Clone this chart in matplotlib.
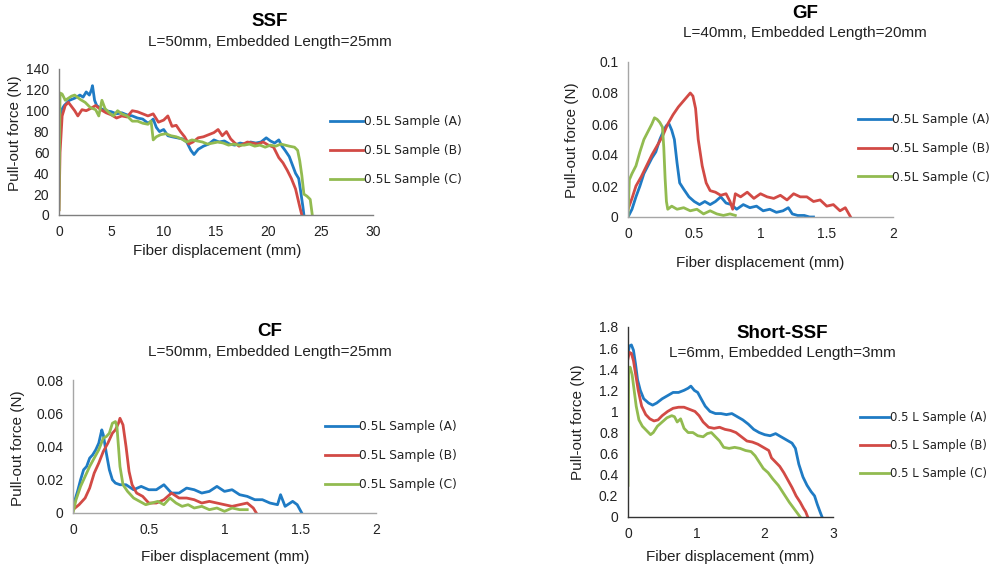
import matplotlib
matplotlib.use("Agg")
import matplotlib.pyplot as plt

# ---------------- DATA ----------------
legend_labels = ["0.5L Sample (A)", "0.5L Sample (B)", "0.5L Sample (C)"]
legend_labels_short = ["0.5 L Sample (A)", "0.5 L Sample (B)", "0.5 L Sample (C)"]

# SSF
ssf_a_x = [0, 0.1, 0.2, 0.5, 1.0, 1.5, 2.0, 2.3, 2.6, 2.9, 3.1, 3.2, 3.4, 3.6, 4.0, 4.5, 5.0, 5.5, 6.0, 6.5, 7.0, 7.5, 8.0, 8.5, 8.8, 9.0, 9.3, 9.6, 10.0, 10.4, 10.8, 11.3, 11.8, 12.2, 12.6, 12.9, 13.3, 13.8, 14.3, 14.8, 15.3, 15.8, 16.3, 16.8, 17.3, 17.8, 18.3, 18.8, 19.3, 19.8, 20.2, 20.6, 21.0, 21.3, 21.6, 22.0, 22.3, 22.6, 22.9, 23.1, 23.3, 23.4]
ssf_a_y = [60, 95, 100, 105, 110, 112, 115, 113, 118, 115, 120, 124, 110, 105, 102, 100, 99, 97, 98, 96, 95, 93, 92, 88, 90, 92, 84, 80, 82, 76, 75, 74, 73, 70, 62, 58, 63, 66, 68, 72, 70, 71, 68, 67, 69, 68, 70, 69, 70, 74, 71, 69, 72, 66, 62, 56, 48, 40, 35, 22, 8, 0]

ssf_b_x = [0, 0.1, 0.3, 0.6, 0.9, 1.2, 1.5, 1.8, 2.2, 2.6, 3.0, 3.5, 4.0, 4.5, 5.0, 5.5, 6.0, 6.5, 7.0, 7.5, 8.0, 8.5, 9.0, 9.5, 10.0, 10.4, 10.8, 11.2, 11.6, 12.0, 12.4, 12.8, 13.3, 13.8, 14.3, 14.8, 15.2, 15.6, 16.0, 16.4, 16.8, 17.2, 17.6, 18.0, 18.5, 19.0, 19.5, 20.0, 20.5, 21.0, 21.4, 21.8, 22.2, 22.6, 23.0, 23.2]
ssf_b_y = [5, 60, 95, 105, 108, 104, 100, 95, 101, 100, 102, 105, 101, 98, 96, 93, 95, 94, 100, 99, 97, 95, 97, 89, 91, 95, 85, 86, 80, 75, 68, 70, 74, 75, 77, 79, 82, 76, 80, 73, 69, 66, 68, 70, 69, 68, 70, 67, 65, 55, 50, 43, 35, 25, 8, 0]

ssf_c_x = [0, 0.1, 0.3, 0.6, 0.9, 1.2, 1.5, 2.0, 2.5, 3.0, 3.5, 3.8, 4.1, 4.4, 4.8, 5.2, 5.6, 6.0, 6.5, 7.0, 7.5, 8.0, 8.5, 8.8, 9.0, 9.3, 9.7, 10.2, 10.7, 11.2, 11.7, 12.2, 12.7, 13.2, 13.7, 14.2, 14.7, 15.2, 15.7, 16.2, 16.7, 17.2, 17.7, 18.2, 18.7, 19.2, 19.7, 20.2, 20.7, 21.2, 21.6, 22.0, 22.5, 22.8, 23.0, 23.2, 23.4, 23.7, 24.0, 24.2]
ssf_c_y = [5, 117, 116, 110, 112, 114, 115, 111, 108, 103, 101, 95, 110, 102, 98, 95, 100, 97, 95, 90, 90, 88, 87, 90, 72, 75, 77, 78, 76, 75, 73, 70, 72, 71, 70, 68, 69, 70, 69, 67, 68, 67, 67, 68, 66, 67, 65, 67, 66, 68, 67, 66, 65, 62, 52, 38, 20, 18, 15, 0]

# GF
gf_a_x = [0, 0.03, 0.06, 0.09, 0.12, 0.15, 0.18, 0.21, 0.24, 0.27, 0.29, 0.31, 0.33, 0.35, 0.37, 0.39, 0.42, 0.46, 0.5, 0.54, 0.58, 0.62, 0.66, 0.7, 0.74, 0.78, 0.82, 0.87, 0.92, 0.97, 1.02, 1.07, 1.12, 1.17, 1.21, 1.24, 1.28, 1.33, 1.37, 1.4]
gf_a_y = [0, 0.005, 0.013, 0.02, 0.028, 0.033, 0.038, 0.042, 0.05, 0.056, 0.059, 0.06, 0.056, 0.05, 0.035, 0.022, 0.018, 0.013, 0.01, 0.008, 0.01, 0.008, 0.01, 0.013, 0.009, 0.008, 0.005, 0.008, 0.006, 0.007, 0.004, 0.005, 0.003, 0.004, 0.006, 0.002, 0.001, 0.001, 0.0, 0.0]

gf_b_x = [0, 0.03, 0.06, 0.1, 0.14, 0.18, 0.22, 0.26, 0.3, 0.34, 0.38, 0.42, 0.45, 0.47, 0.49, 0.51, 0.53, 0.56, 0.59, 0.62, 0.66, 0.7, 0.74, 0.77, 0.79, 0.81, 0.85, 0.9, 0.95, 1.0, 1.05, 1.1, 1.15, 1.2, 1.25, 1.3, 1.35, 1.4, 1.45, 1.5, 1.55, 1.6, 1.64, 1.68]
gf_b_y = [0.005, 0.012, 0.02, 0.026, 0.033, 0.04, 0.046, 0.052, 0.06, 0.066, 0.071, 0.075, 0.078, 0.08, 0.078, 0.07, 0.05, 0.033, 0.022, 0.017, 0.016, 0.014, 0.015, 0.01, 0.005, 0.015, 0.013, 0.016, 0.012, 0.015, 0.013, 0.012, 0.014, 0.011, 0.015, 0.013, 0.013, 0.01, 0.011, 0.007, 0.008, 0.004, 0.006, 0.0]

gf_c_x = [0, 0.01, 0.03, 0.06, 0.09, 0.12, 0.15, 0.18, 0.2, 0.22, 0.24, 0.26, 0.27, 0.28, 0.29, 0.3, 0.33, 0.37, 0.42, 0.47, 0.52, 0.57, 0.62, 0.67, 0.72, 0.77, 0.81]
gf_c_y = [0, 0.024, 0.028, 0.033, 0.042, 0.05, 0.055, 0.06, 0.064, 0.063, 0.061, 0.058, 0.045, 0.025, 0.01, 0.005, 0.007, 0.005, 0.006, 0.004, 0.005, 0.002, 0.004, 0.002, 0.001, 0.002, 0.001]

# CF
cf_a_x = [0, 0.01, 0.03, 0.05, 0.07, 0.09, 0.11, 0.13, 0.15, 0.17, 0.19, 0.2, 0.22, 0.24, 0.26, 0.28, 0.31, 0.35, 0.4, 0.45, 0.5, 0.55, 0.6, 0.65, 0.7, 0.75, 0.8, 0.85, 0.9, 0.95, 1.0, 1.05, 1.1, 1.15, 1.2, 1.25, 1.3, 1.35, 1.37, 1.4, 1.45, 1.48, 1.51]
cf_a_y = [0.003, 0.007, 0.013, 0.02, 0.026, 0.028, 0.033, 0.035, 0.038, 0.042, 0.05, 0.047, 0.036, 0.026, 0.02, 0.018, 0.017, 0.017, 0.014, 0.016, 0.014, 0.014, 0.017, 0.012, 0.012, 0.015, 0.014, 0.012, 0.013, 0.016, 0.013, 0.014, 0.011, 0.01, 0.008, 0.008, 0.006, 0.005, 0.011, 0.004, 0.007, 0.005, 0.0]

cf_b_x = [0, 0.04, 0.08, 0.11, 0.14, 0.17, 0.2, 0.23, 0.26, 0.28, 0.3, 0.31, 0.33, 0.35, 0.37, 0.39, 0.42, 0.46, 0.5, 0.55, 0.6, 0.65, 0.7, 0.75, 0.8, 0.85, 0.9, 0.95, 1.0, 1.05, 1.1, 1.15, 1.19, 1.21]
cf_b_y = [0.002, 0.005, 0.009, 0.015, 0.024, 0.03, 0.037, 0.042, 0.048, 0.05, 0.054, 0.057, 0.053, 0.04, 0.025, 0.017, 0.012, 0.01, 0.006, 0.006, 0.008, 0.012, 0.009, 0.009, 0.008, 0.006, 0.007, 0.006, 0.005, 0.004, 0.005, 0.006, 0.003, 0.0]

cf_c_x = [0, 0.02, 0.05, 0.08, 0.11, 0.14, 0.17, 0.2, 0.22, 0.24, 0.26, 0.28, 0.29, 0.3, 0.31, 0.33, 0.36, 0.4, 0.44, 0.48, 0.52, 0.56, 0.6, 0.64, 0.68, 0.72, 0.76, 0.8, 0.85, 0.9, 0.95, 1.0, 1.05, 1.1, 1.15]
cf_c_y = [0, 0.008, 0.016, 0.022, 0.028, 0.033, 0.038, 0.045, 0.046, 0.048, 0.054, 0.055, 0.052, 0.04, 0.028, 0.017, 0.013, 0.009, 0.007, 0.005, 0.006, 0.007, 0.005, 0.009, 0.006, 0.004, 0.005, 0.003, 0.004, 0.002, 0.003, 0.001, 0.003, 0.002, 0.002]

# Short-SSF
sh_a_x = [0, 0.02, 0.05, 0.08, 0.11, 0.14, 0.18, 0.23, 0.3, 0.36, 0.42, 0.5, 0.58, 0.66, 0.74, 0.82, 0.88, 0.92, 0.97, 1.02, 1.07, 1.13, 1.2, 1.28, 1.36, 1.44, 1.52, 1.6, 1.68, 1.76, 1.84, 1.92, 2.0, 2.08, 2.16, 2.24, 2.32, 2.4, 2.45, 2.5, 2.56, 2.62, 2.68, 2.73, 2.77, 2.81, 2.84]
sh_a_y = [1.55, 1.62, 1.63, 1.58, 1.45, 1.3, 1.2, 1.12, 1.08, 1.06, 1.08, 1.12, 1.15, 1.18, 1.18, 1.2, 1.22, 1.24, 1.2, 1.18, 1.12, 1.05, 1.0, 0.98, 0.98, 0.97, 0.98, 0.95, 0.92, 0.88, 0.83, 0.8, 0.78, 0.77, 0.79, 0.76, 0.73, 0.7, 0.65, 0.5, 0.38, 0.3, 0.24, 0.2, 0.12, 0.05, 0.0]

sh_b_x = [0, 0.02, 0.05, 0.08, 0.11, 0.15, 0.2, 0.26, 0.32, 0.38, 0.44, 0.5, 0.58, 0.66, 0.74, 0.82, 0.9, 0.98, 1.04, 1.1, 1.18, 1.26, 1.34, 1.42, 1.5, 1.58, 1.66, 1.74, 1.82, 1.9, 1.98, 2.06, 2.1, 2.16, 2.22, 2.28, 2.34, 2.4, 2.46, 2.52, 2.57, 2.6, 2.63]
sh_b_y = [1.5, 1.56, 1.55, 1.48, 1.36, 1.2, 1.05, 0.97, 0.93, 0.91, 0.92, 0.96, 1.0, 1.03, 1.04, 1.04, 1.02, 1.0, 0.96, 0.9, 0.85, 0.84, 0.85, 0.83, 0.82, 0.8, 0.76, 0.72, 0.71, 0.69, 0.66, 0.63, 0.56, 0.52, 0.48, 0.42, 0.35, 0.28, 0.2, 0.14, 0.08, 0.05, 0.0]

sh_c_x = [0, 0.01, 0.03, 0.06, 0.09, 0.12, 0.16, 0.21, 0.27, 0.33, 0.37, 0.43, 0.5, 0.57, 0.64, 0.68, 0.72, 0.77, 0.82, 0.88, 0.95, 1.02, 1.1, 1.16, 1.22, 1.28, 1.34, 1.4, 1.48, 1.56, 1.64, 1.72, 1.8, 1.86, 1.92, 1.98, 2.05, 2.12, 2.2, 2.28, 2.36, 2.44, 2.52]
sh_c_y = [0.3, 1.38, 1.42, 1.35, 1.2, 1.05, 0.92, 0.86, 0.82, 0.78, 0.8, 0.86, 0.9, 0.94, 0.96, 0.95, 0.9, 0.93, 0.84, 0.8, 0.8, 0.77, 0.76, 0.79, 0.8, 0.76, 0.72, 0.66, 0.65, 0.66, 0.65, 0.63, 0.62, 0.58, 0.52, 0.46, 0.42, 0.36, 0.3, 0.22, 0.14, 0.07, 0.0]

# ---------------- STYLE ----------------
colors = ["#1f7bc4", "#d24a45", "#92bb50"]
W, H = 996, 572
fig = plt.figure(figsize=(W / 100, H / 100), dpi=100)
tick_font = "Liberation Sans"


def fx(px):
    return px / W


def fy(py):
    return 1 - py / H


def make_axes(l, t, r, b, xlim, xticks, xticklabels, ylim, yticks, yticklabels, spine_color):
    ax = fig.add_axes([fx(l), fy(b), fx(r - l), (b - t) / H])
    ax.set_xlim(*xlim)
    ax.set_ylim(*ylim)
    ax.set_xticks(xticks)
    ax.set_xticklabels(xticklabels)
    ax.set_yticks(yticks)
    ax.set_yticklabels(yticklabels)
    for s in ["top", "right"]:
        ax.spines[s].set_visible(False)
    for s in ["left", "bottom"]:
        ax.spines[s].set_color(spine_color)
        ax.spines[s].set_linewidth(1.0)
    ax.tick_params(length=0, pad=7, labelsize=10, colors="#222222")
    for lab in ax.get_xticklabels() + ax.get_yticklabels():
        lab.set_fontfamily(tick_font)
    ax.patch.set_alpha(0)
    return ax


def add_texts(title, tx, ty, sub, sy, xlab, xlx, xly, ylab, ylx, yly):
    fig.text(fx(tx), fy(ty), title, ha="center", va="center", fontsize=13.5,
             fontweight="bold", family="Liberation Sans")
    fig.text(fx(tx), fy(sy), sub, ha="center", va="center", fontsize=11,
             family="Liberation Sans", color="#222222")
    fig.text(fx(xlx), fy(xly), xlab, ha="center", va="center", fontsize=11,
             family="Liberation Sans", color="#222222")
    fig.text(fx(ylx), fy(yly), ylab, ha="center", va="center", fontsize=11,
             family="Liberation Sans", rotation=90, color="#222222")


def add_legend(ax, labels, lx, ly, fs=8.8, hl=2.7):
    leg = ax.legend(labels, loc="upper left", bbox_to_anchor=(fx(lx), fy(ly)),
                    bbox_transform=fig.transFigure, frameon=False, fontsize=fs,
                    handlelength=hl, handletextpad=0.1, labelspacing=1.3,
                    borderpad=0, borderaxespad=0)
    for t in leg.get_texts():
        t.set_color("#222222")
    return leg


lw = 2.0

# Panel 1: SSF
ax1 = make_axes(59, 69, 373, 215, (0, 30), [0, 5, 10, 15, 20, 25, 30],
                ["0", "5", "10", "15", "20", "25", "30"], (0, 140),
                [0, 20, 40, 60, 80, 100, 120, 140],
                ["0", "20", "40", "60", "80", "100", "120", "140"], "#7f7f7f")
ax1.plot(ssf_a_x, ssf_a_y, color=colors[0], lw=lw)
ax1.plot(ssf_b_x, ssf_b_y, color=colors[1], lw=lw)
ax1.plot(ssf_c_x, ssf_c_y, color=colors[2], lw=lw)
add_legend(ax1, legend_labels, 330, 115)
add_texts("SSF", 270, 21, "L=50mm, Embedded Length=25mm", 42,
          "Fiber displacement (mm)", 217, 251, "Pull-out force (N)", 15, 133)

# Panel 2: GF
ax2 = make_axes(628, 62, 893, 217, (0, 2), [0, 0.5, 1, 1.5, 2],
                ["0", "0.5", "1", "1.5", "2"], (0, 0.1),
                [0, 0.02, 0.04, 0.06, 0.08, 0.1],
                ["0", "0.02", "0.04", "0.06", "0.08", "0.1"], "#a6a6a6")
ax2.plot(gf_a_x, gf_a_y, color=colors[0], lw=lw)
ax2.plot(gf_b_x, gf_b_y, color=colors[1], lw=lw)
ax2.plot(gf_c_x, gf_c_y, color=colors[2], lw=lw)
add_legend(ax2, legend_labels, 858, 113)
add_texts("GF", 805, 13, "L=40mm, Embedded Length=20mm", 33,
          "Fiber displacement (mm)", 760, 263, "Pull-out force (N)", 572, 140)

# Panel 3: CF
ax3 = make_axes(73, 380, 376, 513, (0, 2), [0, 0.5, 1, 1.5, 2],
                ["0", "0.5", "1", "1.5", "2"], (0, 0.08),
                [0, 0.02, 0.04, 0.06, 0.08],
                ["0", "0.02", "0.04", "0.06", "0.08"], "#a6a6a6")
ax3.plot(cf_a_x, cf_a_y, color=colors[0], lw=lw)
ax3.plot(cf_b_x, cf_b_y, color=colors[1], lw=lw)
ax3.plot(cf_c_x, cf_c_y, color=colors[2], lw=lw)
add_legend(ax3, legend_labels, 325, 420)
add_texts("CF", 270, 332, "L=50mm, Embedded Length=25mm", 352,
          "Fiber displacement (mm)", 225, 557, "Pull-out force (N)", 18, 448)

# Panel 4: Short-SSF
ax4 = make_axes(628, 327, 833, 517, (0, 3), [0, 1, 2, 3],
                ["0", "1", "2", "3"], (0, 1.8),
                [0, 0.2, 0.4, 0.6, 0.8, 1.0, 1.2, 1.4, 1.6, 1.8],
                ["0", "0.2", "0.4", "0.6", "0.8", "1", "1.2", "1.4", "1.6", "1.8"], "#333333")
ax4.plot(sh_a_x, sh_a_y, color=colors[0], lw=lw)
ax4.plot(sh_b_x, sh_b_y, color=colors[1], lw=lw)
ax4.plot(sh_c_x, sh_c_y, color=colors[2], lw=lw)
add_legend(ax4, legend_labels_short, 860, 411, fs=8.4, hl=2.5)
add_texts("Short-SSF", 782, 333, "L=6mm, Embedded Length=3mm", 353,
          "Fiber displacement (mm)", 730, 557, "Pull-out force (N)", 578, 422)

fig.savefig("out.png", dpi=100)
